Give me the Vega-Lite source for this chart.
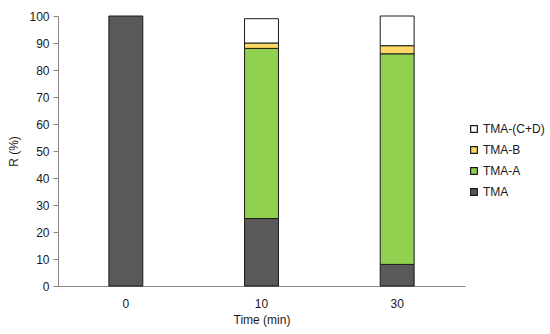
{
  "$schema": "https://vega.github.io/schema/vega-lite/v6.json",
  "width": 407,
  "height": 270,
  "autosize": {"type": "none"},
  "padding": {"left": 58, "top": 16, "right": 85, "bottom": 48},
  "background": "white",
  "config": {
    "view": {"stroke": null},
    "font": "Liberation Sans",
    "axis": {"labelFont": "Liberation Sans", "titleFont": "Liberation Sans", "labelFontSize": 12, "titleFontSize": 12, "titleFontWeight": "normal", "labelColor": "#1a1a1a", "titleColor": "#1a1a1a", "grid": false, "domainColor": "#868686", "tickColor": "#868686"},
    "legend": {"labelFont": "Liberation Sans", "labelFontSize": 12, "labelColor": "#1a1a1a"}
  },
  "data": {
    "values": [
      {"time": "0", "series": "TMA", "value": 100},
      {"time": "10", "series": "TMA", "value": 25},
      {"time": "10", "series": "TMA-A", "value": 63},
      {"time": "10", "series": "TMA-B", "value": 2},
      {"time": "10", "series": "TMA-(C+D)", "value": 9},
      {"time": "30", "series": "TMA", "value": 8},
      {"time": "30", "series": "TMA-A", "value": 78},
      {"time": "30", "series": "TMA-B", "value": 3},
      {"time": "30", "series": "TMA-(C+D)", "value": 11}
    ]
  },
  "transform": [
    {"calculate": "indexof(['TMA','TMA-A','TMA-B','TMA-(C+D)'], datum.series)", "as": "stackOrder"}
  ],
  "mark": {"type": "bar", "stroke": "#1a1a1a", "strokeWidth": 1},
  "encoding": {
    "x": {
      "field": "time", "type": "ordinal", "sort": ["0", "10", "30"],
      "scale": {"paddingInner": 0.75, "paddingOuter": 0.375},
      "axis": {"title": "Time (min)", "labelAngle": 0, "ticks": false, "labelPadding": 12, "titlePadding": 5}
    },
    "y": {
      "field": "value", "type": "quantitative", "stack": "zero",
      "scale": {"domain": [0, 100], "nice": false},
      "axis": {"title": "R (%)", "values": [0,10,20,30,40,50,60,70,80,90,100], "tickSize": 5, "labelPadding": 4, "titlePadding": 8}
    },
    "color": {
      "field": "series", "type": "nominal",
      "scale": {"domain": ["TMA-(C+D)", "TMA-B", "TMA-A", "TMA"], "range": ["#FFFFFF", "#FFD966", "#92D050", "#595959"]},
      "legend": {"title": null, "orient": "none", "legendX": 410, "legendY": 107, "symbolType": "square", "symbolSize": 45, "symbolStrokeColor": "#1a1a1a", "symbolStrokeWidth": 1.2, "rowPadding": 9, "labelOffset": 3}
    },
    "order": {"field": "stackOrder", "type": "quantitative"}
  }
}
